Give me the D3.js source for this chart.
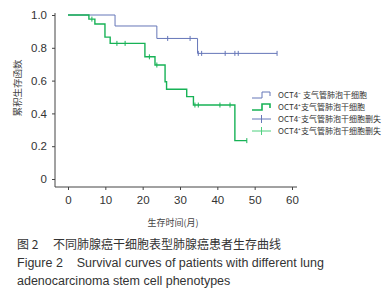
<!DOCTYPE html>
<html>
<head>
<meta charset="utf-8">
<script src="https://cdn.jsdelivr.net/npm/d3@7"></script>
<style>
  body { margin: 0; background: #fff; }
  svg { display: block; font-family: "Liberation Sans", Arial, sans-serif; }
</style>
</head>
<body>
<svg id="chart"></svg>
<script>
const WIDTH = 390;
const HEIGHT = 300;

// survival steps (time in months, cumulative survival)
const negTimes = [0, 12.6, 23.8, 34.7];
const negSurv = [1.0, 0.933, 0.857, 0.766];
const negCensor = [26.7, 32.7, 34.9, 35.8, 42.1, 44.7, 45.6, 56];
const negEnd = 56;

const posTimes = [0, 5.6, 7.2, 9.9, 11.3, 20.6, 23.3, 26.0, 26.4, 31.8, 33.6, 44.7];
const posSurv = [1.0, 0.975, 0.945, 0.865, 0.827, 0.745, 0.695, 0.593, 0.547, 0.502, 0.451, 0.234];
const posCensor = [6.4, 13.1, 15.3, 21.8, 23.8, 34.0, 34.9, 40.7, 43.4, 47.9];
const posEnd = 47.9;

const xTicks = [0, 10, 20, 30, 40, 50, 60];
const yTicks = [0, 0.2, 0.4, 0.6, 0.8, 1.0];

const legendLabels = [
  "OCT4\u207B 支气管肺泡干细胞",
  "OCT4\u207A支气管肺泡干细胞",
  "OCT4\u207B支气管肺泡干细胞删失",
  "OCT4\u207A支气管肺泡干细胞删失"
];
const captionLines = [
  "图 2　 不同肺腺癌干细胞表型肺腺癌患者生存曲线",
  "Figure 2    Survival curves of patients with different lung",
  "adenocarcinoma stem cell phenotypes"
];

const BLUE = "#6576b8";
const GREEN = "#17b256";
const GREEN_LIGHT = "#4fd07f";

const svg = d3.select("#chart").attr("width", WIDTH).attr("height", HEIGHT);

const x = d3.scaleLinear().domain([0, 60]).range([68, 292]);
const y = d3.scaleLinear().domain([0, 1]).range([179, 15]);

// axes
const xAxis = svg.append("g").attr("transform", "translate(0,187)")
  .call(d3.axisBottom(x).tickValues(xTicks).tickSize(3).tickPadding(6).tickFormat(d3.format("d")));
xAxis.select(".domain").attr("d", "M55,0H297");
const yAxis = svg.append("g").attr("transform", "translate(55,0)")
  .call(d3.axisLeft(y).tickValues(yTicks).tickSize(3).tickPadding(5)
    .tickFormat(d => d === 0 ? "0" : d3.format(".1f")(d)));
yAxis.select(".domain").attr("d", "M0,13V187");
svg.selectAll(".domain, .tick line").attr("stroke", "#444").attr("stroke-width", 1);
svg.selectAll(".tick text").attr("fill", "#333").attr("font-size", 11.5)
  .attr("font-family", "\"Liberation Sans\", Arial, sans-serif");

function stepAt(times, surv, t) {
  let v = surv[0];
  times.forEach((tt, i) => { if (tt <= t) v = surv[i]; });
  return v;
}

function drawCurve(times, surv, end, censor, color, width, censorColor) {
  const pts = times.map((t, i) => [t, surv[i]]);
  pts.push([end, surv[surv.length - 1]]);
  const line = d3.line().x(d => x(d[0])).y(d => y(d[1])).curve(d3.curveStepAfter);
  svg.append("path").attr("d", line(pts))
    .attr("fill", "none").attr("stroke", color).attr("stroke-width", width);
  svg.append("g").selectAll("line").data(censor).enter().append("line")
    .attr("x1", d => x(d)).attr("x2", d => x(d))
    .attr("y1", d => y(stepAt(times, surv, d)) - 2.5)
    .attr("y2", d => y(stepAt(times, surv, d)) + 2.5)
    .attr("stroke", censorColor).attr("stroke-width", 1);
}

drawCurve(negTimes, negSurv, negEnd, negCensor, BLUE, 1, BLUE);
drawCurve(posTimes, posSurv, posEnd, posCensor, GREEN, 1.4, GREEN);

// axis titles
svg.append("text").attr("transform", "translate(21,88) rotate(-90)")
  .attr("text-anchor", "middle").attr("font-size", 9.5).attr("fill", "#444")
  .attr("font-family", "\"Noto Sans CJK SC\", sans-serif")
  .text("累积生存函数");
svg.append("text").attr("x", 173).attr("y", 226)
  .attr("text-anchor", "middle").attr("font-size", 9).attr("fill", "#444")
  .attr("font-family", "\"Noto Sans CJK SC\", sans-serif")
  .text("生存时间(月)");

// legend
const legendY = [95, 107, 119, 131];
const legendColors = [BLUE, GREEN, BLUE, GREEN_LIGHT];
const lg = svg.append("g");
legendLabels.forEach((lab, i) => {
  const ly = legendY[i];
  if (i < 2) {
    lg.append("path")
      .attr("d", `M252,${ly + 3}H262V${ly - 3}H270V${ly + 1}`)
      .attr("fill", "none").attr("stroke", legendColors[i]).attr("stroke-width", i === 1 ? 1.6 : 1);
  } else {
    lg.append("path")
      .attr("d", `M252,${ly}H271M261.5,${ly - 4}V${ly + 4}`)
      .attr("fill", "none").attr("stroke", legendColors[i]).attr("stroke-width", 1);
  }
  lg.append("text").attr("x", 278).attr("y", ly + 3)
    .attr("font-size", 8).attr("fill", "#333")
    .attr("font-family", "\"Noto Sans CJK SC\", sans-serif")
    .text(lab);
});

// caption
const capY = [249, 267, 285];
captionLines.forEach((c, i) => {
  svg.append("text").attr("x", 17).attr("y", capY[i])
    .attr("font-size", i === 0 ? 12 : 12.5).attr("fill", "#333")
    .attr("font-family", i === 0 ? "\"Noto Sans CJK SC\", sans-serif" : "\"Liberation Sans\", Arial, sans-serif")
    .style("white-space", "pre")
    .text(c);
});
</script>
</body>
</html>
